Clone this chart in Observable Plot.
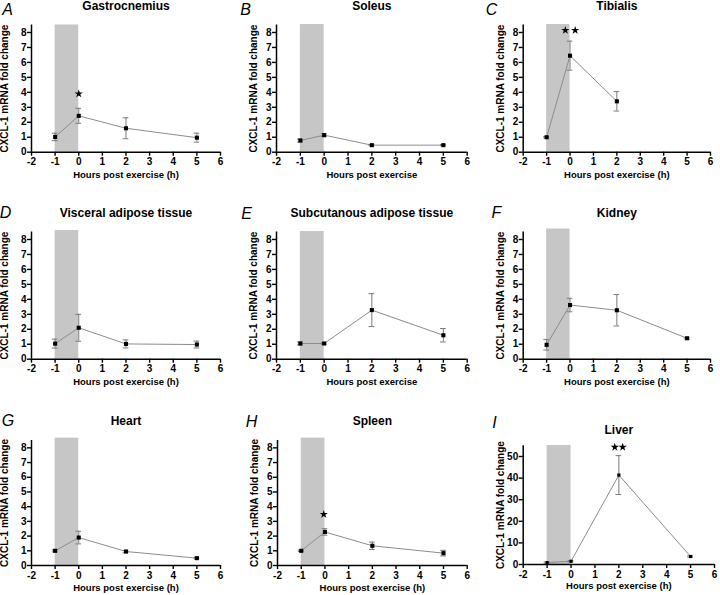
<!DOCTYPE html>
<html><head><meta charset="utf-8">
<script src="https://cdn.jsdelivr.net/npm/d3@7"></script>
<script src="https://cdn.jsdelivr.net/npm/@observablehq/plot@0.6"></script>
<style>
body{margin:0;background:#fff;}
#fig{position:relative;width:720px;height:595px;overflow:hidden;font-family:"Liberation Sans",Arial,sans-serif;}
#fig svg{position:absolute;overflow:visible;background:transparent;}
#fig svg [aria-label$="axis tick"]{stroke-width:1.4;}
#fig svg text{font-weight:bold !important;}
#fig svg g[font-style="italic"] text{font-weight:normal !important;}
</style></head><body><div id="fig"></div>
<script>
// ---- data ----
const hours = [-1, 0, 2, 5];
const tibialisHours = [-1, 0, 2];
const xTicks = [-2, -1, 0, 1, 2, 3, 4, 5, 6];
const foldTicks = [0, 1, 2, 3, 4, 5, 6, 7, 8];
const liverTicks = [0, 10, 20, 30, 40, 50];
const panelLetters = ["A", "B", "C", "D", "E", "F", "G", "H", "I"];
const tissueNames = ["Gastrocnemius", "Soleus", "Tibialis", "Visceral adipose tissue", "Subcutanous adipose tissue", "Kidney", "Heart", "Spleen", "Liver"];
const xLabels = ["Hours post exercise (h)", "Hours post exercise", "Hours post exercise (h)", "Hours post exercise (h)", "Hours post exercise", "Hours post exercise (h)", "Hours post exercise (h)", "Hours post exercise (h)", "Hours post exercise (h)"];
const yLabel = "CXCL-1 mRNA fold change";
const exerciseStart = -1, exerciseEnd = 0;

const gastroMean = [1.02, 2.43, 1.6, 0.97];   const gastroErr = [0.25, 0.5, 0.7, 0.3];
const soleusMean = [0.78, 1.14, 0.47, 0.47];  const soleusErr = [0.1, 0.1, 0.04, 0.04];
const tibialisMean = [1.0, 6.45, 3.4];        const tibialisErr = [0.05, 0.97, 0.65];
const visceralMean = [1.04, 2.1, 1.02, 0.98]; const visceralErr = [0.3, 0.9, 0.27, 0.23];
const subcutMean = [1.05, 1.05, 3.28, 1.6];   const subcutErr = [0.1, 0.05, 1.1, 0.45];
const kidneyMean = [0.96, 3.62, 3.27, 1.4];   const kidneyErr = [0.35, 0.45, 1.05, 0.05];
const heartMean = [1.0, 1.9, 0.95, 0.5];      const heartErr = [0.07, 0.43, 0.08, 0.05];
const spleenMean = [1.0, 2.28, 1.34, 0.84];   const spleenErr = [0.05, 0.22, 0.25, 0.19];
const liverMean = [0.9, 1.5, 41.4, 3.7];      const liverErr = [0.3, 0.3, 9.0, 0.3];

const gastroStarX = [0];            const gastroStarY = [3.9];
const tibialisStarX = [-0.2, 0.22]; const tibialisStarY = [8.15, 8.15];
const spleenStarX = [-0.05];        const spleenStarY = [3.48];
const liverStarX = [1.83, 2.16];    const liverStarY = [54.3, 54.3];

const shadeTops = [8.5, 8.53, 8.53, 8.6, 8.53, 8.7, 8.66, 8.66, 55.1];

// ---- build panel tables ----
const rows = (xs, ms, es) => xs.map((x, i) => ({x, y: ms[i], e: es[i]}));
const stars = (xs, ys) => xs.map((x, i) => ({x, y: ys[i]}));
const series = [
  [rows(hours, gastroMean, gastroErr), stars(gastroStarX, gastroStarY)],
  [rows(hours, soleusMean, soleusErr), []],
  [rows(tibialisHours, tibialisMean, tibialisErr), stars(tibialisStarX, tibialisStarY)],
  [rows(hours, visceralMean, visceralErr), []],
  [rows(hours, subcutMean, subcutErr), []],
  [rows(hours, kidneyMean, kidneyErr), []],
  [rows(hours, heartMean, heartErr), []],
  [rows(hours, spleenMean, spleenErr), stars(spleenStarX, spleenStarY)],
  [rows(hours, liverMean, liverErr), stars(liverStarX, liverStarY)]
];

// ---- layout ----
const colX = [0, 240, 480];
const rowY = [0, 200, 400];
const rowH = [200, 200, 195];
const colMargins = [[31, 20], [36, 13.3], [42.7, 10]];
const rowMargins = [[24.5, 48.3], [31.5, 41.3], [40, 30]];
const yLabelDx = [-26.5, -23, -22];
const letterPos = [[7, 9], [5, 9], [11, 9], [5, 12], [6, 13], [16, 12.5], [7.5, 20], [11, 21], [14, 22]];

const fig = document.getElementById("fig");
for (let k = 0; k < 9; k++) {
  const r = Math.floor(k / 3), c = k % 3;
  const isLiver = k === 8;
  let [mL, mR] = colMargins[c];
  let [mT, mB] = rowMargins[r];
  if (k === 7) mL = 37;
  if (isLiver) { mR = 6; mT = 45.2; mB = 31; }
  const [pts, st] = series[k];
  const capW = 0.12;
  const shade = [{x1: exerciseStart, x2: exerciseEnd, y1: 0, y2: shadeTops[k]}];
  const svg = Plot.plot({
    width: 240, height: rowH[r],
    marginLeft: mL, marginRight: mR, marginTop: mT, marginBottom: mB,
    style: {fontFamily: "'Liberation Sans', Arial, sans-serif", fontSize: "10px", fontWeight: "bold", color: "black", background: "transparent", overflow: "visible"},
    x: {domain: [-2, 6], ticks: xTicks, tickSize: 4, tickPadding: 2, tickFormat: d => String(d), label: null},
    y: {domain: isLiver ? [0, 55] : [0, 8.5], ticks: isLiver ? liverTicks : foldTicks, tickSize: 4, tickPadding: 1, tickFormat: d => String(d), label: null},
    marks: [
      Plot.rect(shade, {x1: "x1", x2: "x2", y1: "y1", y2: "y2", fill: "#c6c6c6"}),
      Plot.line(pts, {x: "x", y: "y", stroke: "#8c8c8c", strokeWidth: 1}),
      Plot.ruleX(pts, {x: "x", y1: d => d.y - d.e, y2: d => d.y + d.e, stroke: "#7a7a7a", strokeWidth: 1}),
      Plot.ruleY(pts, {y: d => d.y + d.e, x1: d => d.x - capW, x2: d => d.x + capW, stroke: "#7a7a7a", strokeWidth: 1}),
      Plot.ruleY(pts, {y: d => d.y - d.e, x1: d => d.x - capW, x2: d => d.x + capW, stroke: "#7a7a7a", strokeWidth: 1}),
      Plot.dot(pts, {x: "x", y: "y", symbol: "square", r: isLiver ? 1.8 : 2.3, fill: "black", stroke: "none"}),
      Plot.dot(st, {x: "x", y: "y", symbol: "star", r: 2.6, fill: "black", stroke: "none"}),
      Plot.ruleX([-2], {stroke: "black", strokeWidth: 1.5}),
      Plot.ruleY([0], {stroke: "black", strokeWidth: 1.5}),
      Plot.text([tissueNames[k]], {frameAnchor: "top", textAnchor: "middle", lineAnchor: "middle", dy: isLiver ? -16 : -19, fontSize: 12, fontWeight: "bold"}),
      Plot.text([xLabels[k]], {frameAnchor: "bottom", textAnchor: "middle", lineAnchor: "middle", dy: isLiver ? 21 : 22.5, fontSize: 9.5, fontWeight: "bold"}),
      Plot.text([yLabel], {frameAnchor: "left", textAnchor: "middle", lineAnchor: "middle", rotate: -90, dx: yLabelDx[c], fontSize: 10, fontWeight: "bold"}),
      Plot.text([panelLetters[k]], {frameAnchor: "top-left", textAnchor: "middle", lineAnchor: "middle", dx: letterPos[k][0] - mL, dy: letterPos[k][1] - mT, fontSize: 16, fontWeight: "normal", fontStyle: "italic"})
    ]
  });
  svg.style.left = colX[c] + "px";
  svg.style.top = rowY[r] + "px";
  fig.appendChild(svg);
}
</script></body></html>
